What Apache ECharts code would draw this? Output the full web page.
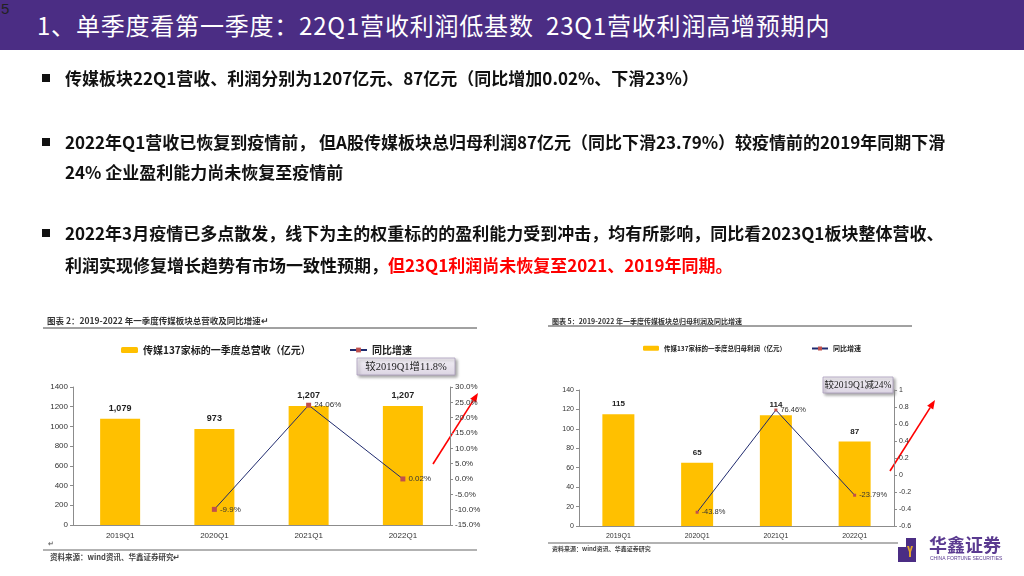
<!DOCTYPE html>
<html>
<head>
<meta charset="utf-8">
<script src="https://cdn.jsdelivr.net/npm/echarts@6/dist/echarts.min.js"></script>
<style>
    html, body {margin: 0; padding: 0; background: #fff;}
    #page {position: relative; width: 1024px; height: 576px; overflow: hidden; font-family: "Noto Sans CJK SC", sans-serif;}
    #chart {position: absolute; left: 0; top: 0; width: 1024px; height: 576px;}
    .header {position: absolute; left: 0; top: 0; width: 1024px; height: 50px; background: #4b2d84;}
    .pageNo {position: absolute; left: 1px; top: 0; font: 15px "Liberation Sans", Arial, sans-serif; color: #222;}
    .title {position: absolute; left: 37px; top: 7px; font-size: 24px; color: #fff; line-height: 36px; letter-spacing: 0.8px;}
    .line {position: absolute; left: 65px; font-size: 17px; font-weight: bold; color: #111; line-height: 24px; white-space: nowrap;}
    .bullet {position: absolute; left: 42px; width: 8px; height: 8px; background: #111;}
    .red {color: #ff0000;}
</style>
</head>
<body>
<div id="page">
    <div id="chart"></div>
    <div class="header">
        <div class="pageNo">5</div>
        <div class="title">1、单季度看第一季度：22Q1营收利润低基数&nbsp;&nbsp;23Q1营收利润高增预期内</div>
    </div>
    <div class="bullet" style="top:74px"></div>
    <div class="line" style="top:66px">传媒板块22Q1营收、利润分别为1207亿元、87亿元（同比增加0.02%、下滑23%）</div>
    <div class="bullet" style="top:138px"></div>
    <div class="line" style="top:130px">2022年Q1营收已恢复到疫情前， 但A股传媒板块总归母利润87亿元（同比下滑23.79%）较疫情前的2019年同期下滑</div>
    <div class="line" style="top:160px">24% 企业盈利能力尚未恢复至疫情前</div>
    <div class="bullet" style="top:229px"></div>
    <div class="line" style="top:221px">2022年3月疫情已多点散发，线下为主的权重标的的盈利能力受到冲击，均有所影响，同比看2023Q1板块整体营收、</div>
    <div class="line" style="top:253px">利润实现修复增长趋势有市场一致性预期，<span class="red">但23Q1利润尚未恢复至2021、2019年同期。</span></div>
</div>
<script>
    // 数据
    var quarters = ['2019Q1', '2020Q1', '2021Q1', '2022Q1'];
    var revenue = [1079, 973, 1207, 1207];          // 亿元
    var revenueYoy = ['-', -9.9, 24.06, 0.02];       // %
    var profit = [115, 65, 114, 87];                 // 亿元
    var profitYoy = ['-', -0.438, 0.7646, -0.2379];  // 比例
    var revName = '传媒137家标的一季度总营收（亿元）';
    var profName = '传媒137家标的一季度总归母利润（亿元）';
    var yoyName = '同比增速';

    var gold = '#ffc000', navy = '#1f2a6e', mark = '#c0504d', axisGray = '#8c8c8c';
    var labelFont = '"Liberation Sans", Arial, sans-serif';

    var myChart = echarts.init(document.getElementById('chart'));

    var catAxis = function (gi, size) {
        return {
            type: 'category', gridIndex: gi, data: quarters,
            axisLine: {lineStyle: {color: axisGray}},
            axisTick: {length: 3, lineStyle: {color: axisGray}},
            axisLabel: {fontSize: size, color: '#333', fontFamily: labelFont, margin: 7}
        };
    };
    var valAxis = function (gi, opts, size, fmt) {
        return echarts.util.extend({
            type: 'value', gridIndex: gi,
            axisLine: {show: true, lineStyle: {color: axisGray}},
            axisTick: {show: true, length: 3, lineStyle: {color: axisGray}},
            splitLine: {show: false},
            axisLabel: {fontSize: size, color: '#333', fontFamily: labelFont, margin: 5, formatter: fmt}
        }, opts);
    };
    var legendText = function (size) {
        return {fontSize: size, fontWeight: 'bold', color: '#222', fontFamily: '"Noto Sans CJK SC", sans-serif'};
    };

    //画箭头
    var arrow = function (x1, y1, x2, y2) {
        var dx = x2 - x1, dy = y2 - y1, len = Math.sqrt(dx * dx + dy * dy);
        var ux = dx / len, uy = dy / len, hl = 9, hw = 3.6;
        var bx = x2 - ux * hl, by = y2 - uy * hl;
        return [{
            type: 'line', shape: {x1: x1, y1: y1, x2: bx, y2: by},
            style: {stroke: '#ff0000', lineWidth: 1.6}
        }, {
            type: 'polygon',
            shape: {points: [[x2, y2], [bx - uy * hw, by + ux * hw], [bx + uy * hw, by - ux * hw]]},
            style: {fill: '#ff0000'}
        }];
    };
    var noteBox = function (x, y, w, h, text, size) {
        return [{
            type: 'rect', shape: {x: x, y: y, width: w, height: h},
            style: {
                fill: new echarts.graphic.LinearGradient(0, 0, 0, 1, [
                    {offset: 0, color: '#f3f0f6'}, {offset: 1, color: '#dcd5e3'}]),
                stroke: '#a99dbb', lineWidth: 0.8,
                shadowBlur: 3, shadowOffsetX: 2, shadowOffsetY: 2, shadowColor: 'rgba(0,0,0,0.35)'
            }
        }, {
            type: 'text', x: x + w / 2, y: y + h / 2 + 0.5,
            style: {
                text: text, fill: '#222', textAlign: 'center', textVerticalAlign: 'middle',
                font: size + 'px "Liberation Serif", "Noto Sans CJK SC", serif'
            }
        }];
    };
    var smallText = function (x, y, text, size, color) {
        return {
            type: 'text', x: x, y: y,
            style: {
                text: text, fill: color || '#333', textAlign: 'left', textVerticalAlign: 'middle',
                font: 'bold ' + size + 'px "Noto Sans CJK SC", sans-serif'
            }
        };
    };
    var hLine = function (x1, x2, y, w, c) {
        return {type: 'line', shape: {x1: x1, y1: y, x2: x2, y2: y}, style: {stroke: c || '#555', lineWidth: w || 1}};
    };

    var graphics = [
        smallText(47, 321, '图表 2：2019-2022 年一季度传媒板块总营收及同比增速↵', 8.5, '#333'),
        hLine(43, 477, 328, 1, '#444'),
        smallText(48, 543, '↵', 7, '#777'),
        hLine(43, 477, 550, 1.2, '#666'),
        smallText(50, 557, '资料来源：wind资讯、华鑫证券研究↵', 7.5, '#444'),
        smallText(552, 321, '图表 5：2019-2022 年一季度传媒板块总归母利润及同比增速', 7, '#333'),
        hLine(548, 912, 326, 1, '#444'),
        hLine(548, 916, 543, 1.2, '#666'),
        smallText(552, 549, '资料来源：wind资讯、华鑫证券研究', 6, '#444'),
        // logo
        {type: 'rect', shape: {x: 898, y: 538, width: 18, height: 24}, style: {fill: '#4b2d84'}},
        {type: 'rect', shape: {x: 898, y: 538, width: 8, height: 9}, style: {fill: '#fff'}},
        {type: 'polygon', shape: {points: [[907, 546], [909, 546], [910, 550], [911, 546], [913, 546], [911, 552], [911, 557], [909, 557], [909, 552]]}, style: {fill: '#e2a52a'}},
        {
            type: 'text', x: 929, y: 545,
            style: {text: '华鑫证券', fill: '#5a3a90', textAlign: 'left', textVerticalAlign: 'middle', font: 'bold 18px "Noto Sans CJK SC", sans-serif'}
        },
        {
            type: 'text', x: 930, y: 559,
            style: {text: 'CHINA FORTUNE SECURITIES', fill: '#5a3a90', textAlign: 'left', textVerticalAlign: 'middle', font: '5px "Liberation Sans", Arial, sans-serif'}
        }
    ];
    graphics = graphics
        .concat(noteBox(357, 358, 98, 17, '较2019Q1增11.8%', 10.5))
        .concat(arrow(433, 464, 478, 393))
        .concat(noteBox(823, 377, 70, 16, '较2019Q1减24%', 9.5))
        .concat(arrow(890, 471, 935, 400));

    var plain = function (v) { return String(v); };

    var opt = {
        animation: false,
        grid: [
            {left: 73, right: 574, top: 387, bottom: 51},
            {left: 579, right: 130, top: 390, bottom: 50}
        ],
        legend: [
            {data: [revName], left: 116, top: 340, itemWidth: 17, itemHeight: 6, itemGap: 4, textStyle: legendText(10)},
            {data: [yoyName], left: 344, top: 340, itemWidth: 17, itemHeight: 6, textStyle: legendText(10)},
            {data: [profName], left: 638, top: 340, itemWidth: 16, itemHeight: 5, textStyle: legendText(6.5)},
            {data: [{name: yoyName + ' '}], left: 806, top: 340, itemWidth: 16, itemHeight: 5, textStyle: legendText(7)}
        ],
        xAxis: [catAxis(0, 8), catAxis(1, 7)],
        yAxis: [
            valAxis(0, {min: 0, max: 1400, interval: 200}, 8, plain),
            valAxis(0, {min: -15, max: 30, interval: 5, position: 'right'}, 8,
                function (v) { return v.toFixed(1) + '%'; }),
            valAxis(1, {min: 0, max: 140, interval: 20}, 7, plain),
            valAxis(1, {min: -0.6, max: 1, interval: 0.2, position: 'right'}, 7,
                function (v) { return String(Math.round(v * 10) / 10); })
        ],
        series: [
            {
                name: revName, type: 'bar', xAxisIndex: 0, yAxisIndex: 0, data: revenue,
                barWidth: 40, itemStyle: {color: gold},
                label: {
                    show: true, position: 'top', distance: 6, fontSize: 9, fontWeight: 'bold', color: '#222',
                    fontFamily: labelFont,
                    formatter: function (p) { return p.value.toLocaleString('en-US'); }
                }
            },
            {
                name: yoyName, type: 'line', xAxisIndex: 0, yAxisIndex: 1, data: revenueYoy,
                symbol: 'rect', symbolSize: 5, lineStyle: {color: navy, width: 1}, itemStyle: {color: mark},
                label: {
                    show: true, position: 'right', distance: 3, fontSize: 8, color: '#333', fontFamily: labelFont,
                    formatter: function (p) { return p.value + '%'; }
                }
            },
            {
                name: profName, type: 'bar', xAxisIndex: 1, yAxisIndex: 2, data: profit,
                barWidth: 32, itemStyle: {color: gold},
                label: {show: true, position: 'top', distance: 6, fontSize: 8, fontWeight: 'bold', color: '#222', fontFamily: labelFont}
            },
            {
                name: yoyName + ' ', type: 'line', xAxisIndex: 1, yAxisIndex: 3, data: profitYoy,
                symbol: 'rect', symbolSize: 3, lineStyle: {color: navy, width: 1}, itemStyle: {color: mark},
                label: {
                    show: true, position: 'right', distance: 3, fontSize: 7.5, color: '#333', fontFamily: labelFont,
                    formatter: function (p) { return +(p.value * 100).toFixed(2) + '%'; }
                }
            }
        ],
        graphic: graphics
    };
    myChart.setOption(opt);
</script>
</body>
</html>
